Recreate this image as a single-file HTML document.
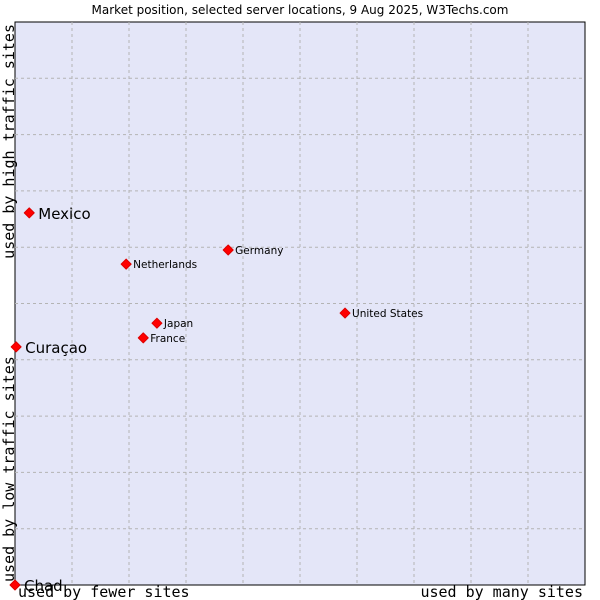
<!DOCTYPE html>
<html><head><meta charset="utf-8"><style>
body{margin:0;background:#fff;width:600px;height:600px;overflow:hidden}
svg{display:block}
</style></head><body>
<svg id="chart" width="600" height="600">
<text x="300" y="14" text-anchor="middle" font-family="DejaVu Sans, sans-serif" font-size="12" fill="#000">Market position, selected server locations, 9 Aug 2025, W3Techs.com</text>
<rect x="15" y="22" width="570" height="563" fill="#e4e6f8" stroke="#000" stroke-width="1"/>
<g id="grid"></g>
<g id="points"></g>
<text x="18" y="597" font-family="DejaVu Sans Mono, Liberation Mono, monospace" font-size="15">used by fewer sites</text>
<text x="583" y="597" text-anchor="end" font-family="DejaVu Sans Mono, Liberation Mono, monospace" font-size="15">used by many sites</text>
<text transform="translate(14,582) rotate(-90)" font-family="DejaVu Sans Mono, Liberation Mono, monospace" font-size="15">used by low traffic sites</text>
<text transform="translate(14,24) rotate(-90)" text-anchor="end" font-family="DejaVu Sans Mono, Liberation Mono, monospace" font-size="15">used by high traffic sites</text>
</svg>
<script>
const names=["Mexico","Curaçao","Chad","Netherlands","Germany","United States","Japan","France"];
const xValues=[2.5,0.2,0,19.5,37.4,57.9,24.9,22.5];
const yValues=[66.1,42.3,0,57.0,59.5,48.3,46.5,43.9];
const bigLabels=[true,true,true,false,false,false,false,false];
const L=15,T=22,W=570,H=563;
const sx=v=>L+v/100*W, sy=v=>T+H-v/100*H;
const ns="http://www.w3.org/2000/svg";
const grid=document.getElementById('grid');
for(let i=1;i<10;i++){
  const v=document.createElementNS(ns,'line');
  
  
  v.setAttribute('x1',sx(i*10));v.setAttribute('x2',sx(i*10));v.setAttribute('y1',T);v.setAttribute('y2',T+H);
  v.setAttribute('stroke','#b4b4b4');v.setAttribute('stroke-dasharray','3,3');grid.appendChild(v);
  const h=document.createElementNS(ns,'line');
  
  
  h.setAttribute('y1',sy(i*10));h.setAttribute('y2',sy(i*10));h.setAttribute('x1',L);h.setAttribute('x2',L+W);
  h.setAttribute('stroke','#b4b4b4');h.setAttribute('stroke-dasharray','3,3');grid.appendChild(h);
}
const pts=document.getElementById('points');
names.forEach((n,i)=>{
  const x=sx(xValues[i]),y=sy(yValues[i]);
  const d=document.createElementNS(ns,'path');
  
  
  d.setAttribute('d',`M${x} ${y-5}L${x+5} ${y}L${x} ${y+5}L${x-5} ${y}Z`);
  d.setAttribute('fill','#f00');d.setAttribute('stroke','#d00');d.setAttribute('stroke-width','1');d.setAttribute('stroke-linejoin','round');
  pts.appendChild(d);
  const t=document.createElementNS(ns,'text');
  
  
  t.setAttribute('x',x+(bigLabels[i]?9:7));
  t.setAttribute('y',y+(bigLabels[i]?6:4));
  t.setAttribute('font-family','DejaVu Sans, sans-serif');
  t.setAttribute('font-size',bigLabels[i]?'15':'10.5');
  t.setAttribute('fill','#000');
  t.textContent=n;pts.appendChild(t);
});
</script>
</body></html>
